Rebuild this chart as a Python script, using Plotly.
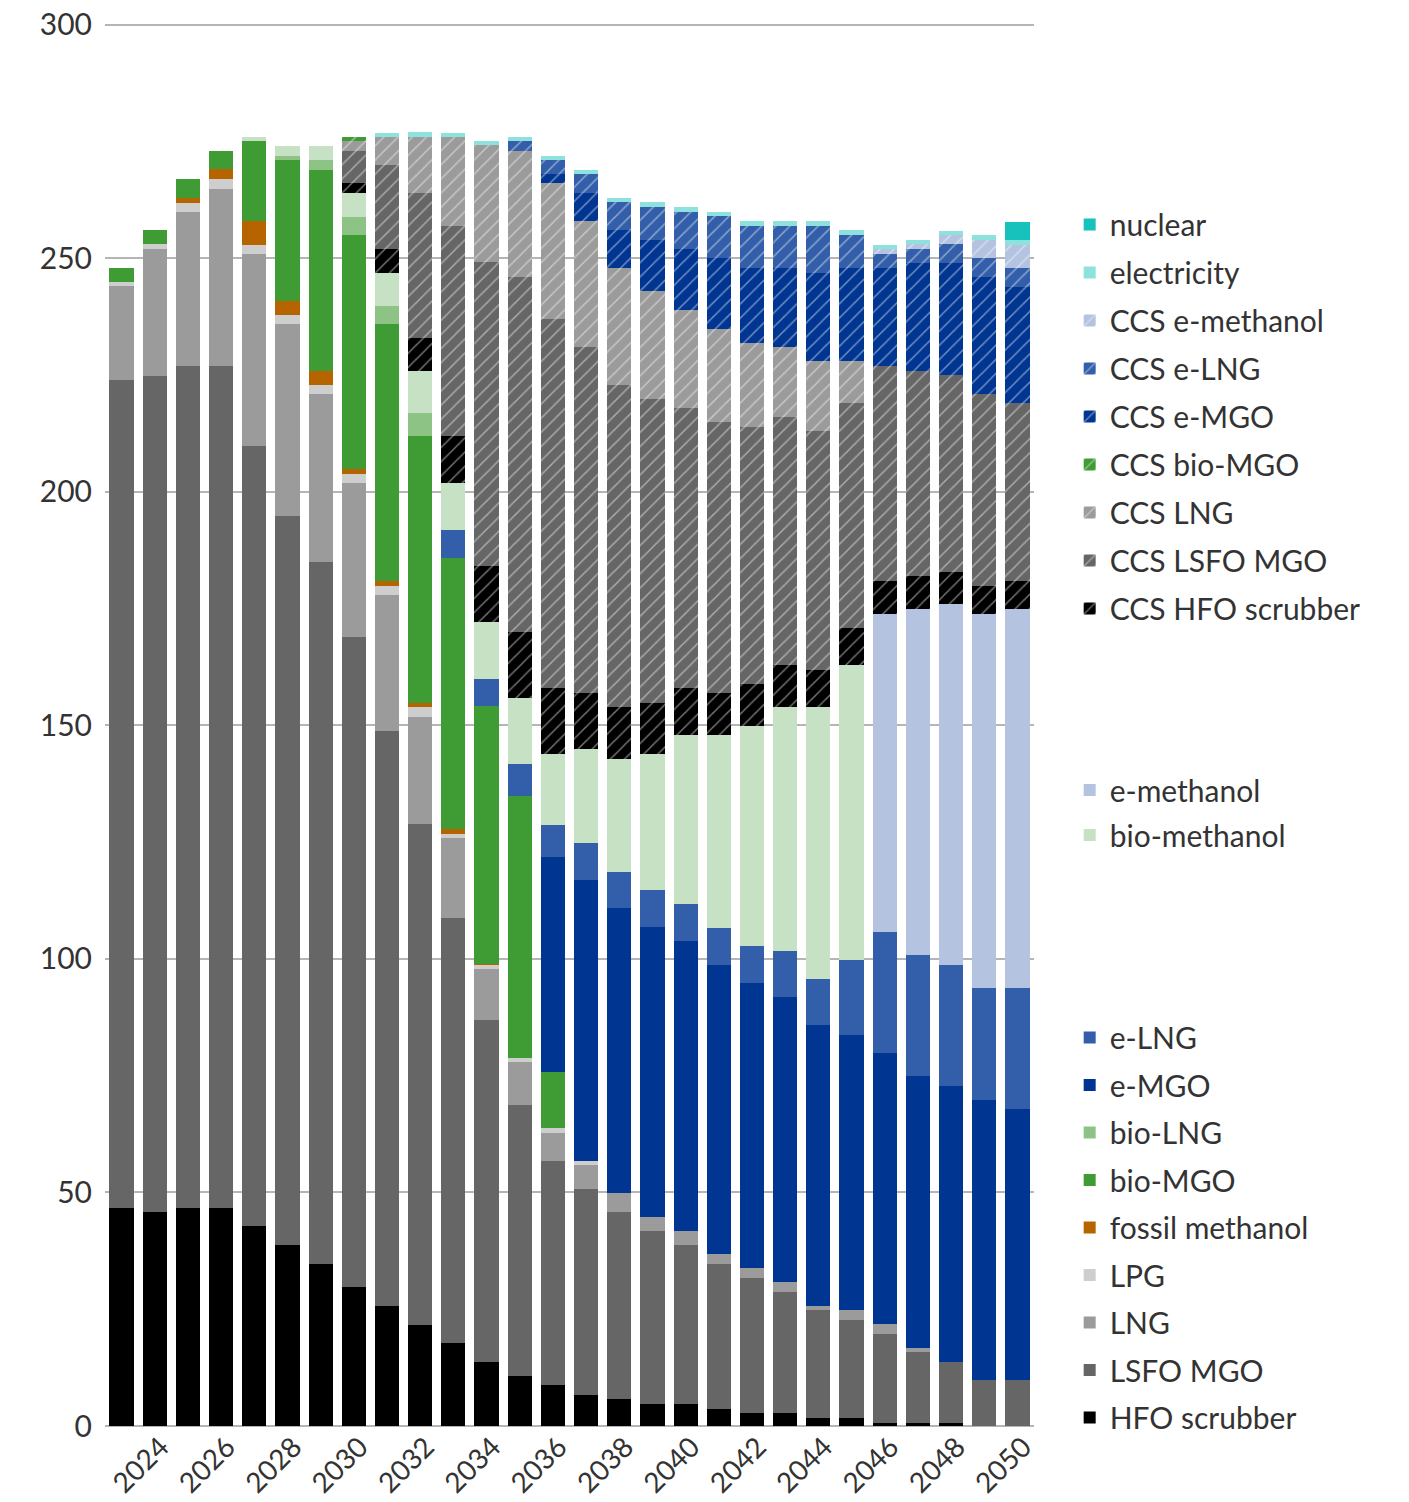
import plotly.graph_objects as go

# ── Data (2023 … 2050) ───────────────────────────────────────────────────────
years = list(range(2023, 2051))

hfo_scrubber = [46.7, 45.8, 46.7, 46.7, 42.8, 38.8, 34.7, 29.8, 25.7, 21.6, 17.8, 13.7, 10.7, 8.8,
                6.6, 5.8, 4.7, 4.7, 3.6, 2.8, 2.8, 1.7, 1.7, 0.6, 0.6, 0.6, 0, 0]
lsfo_mgo = [177.3, 179.0, 180.3, 180.3, 167.1, 156.1, 150.3, 139.2, 123.1, 107.3, 91.0, 73.2, 58.0, 47.9,
            44.1, 40.0, 37.1, 34.1, 31.1, 28.9, 25.9, 23.1, 21.0, 19.1, 15.2, 13.1, 9.9, 9.9]
lng = [20.0, 27.2, 33.0, 37.9, 41.1, 41.1, 36.0, 32.9, 29.1, 22.9, 17.1, 11.0, 9.2, 6.0,
       5.2, 4.1, 3.0, 3.0, 2.1, 2.1, 2.1, 0.9, 2.1, 2.1, 0.9, 0, 0, 0]
lpg = [1.0, 1.0, 1.9, 2.1, 1.9, 1.9, 1.9, 2.0, 2.0, 2.2, 0.9, 0.8, 0.9, 1.1,
       0.8, 0, 0, 0, 0, 0, 0, 0, 0, 0, 0, 0, 0, 0]
fossil_methanol = [0, 0, 1.1, 2.0, 5.1, 3.0, 3.0, 1.0, 1.0, 0.8, 1.0, 0.2, 0, 0,
                   0, 0, 0, 0, 0, 0, 0, 0, 0, 0, 0, 0, 0, 0]
bio_mgo = [3.0, 3.1, 4.0, 4.0, 17.0, 30.2, 43.0, 50.1, 55.1, 57.2, 58.1, 55.3, 56.1, 12.0,
           0, 0, 0, 0, 0, 0, 0, 0, 0, 0, 0, 0, 0, 0]
bio_lng = [0, 0, 0, 0, 0, 0.8, 2.2, 3.9, 3.8, 4.9, 0, 0, 0, 0,
           0, 0, 0, 0, 0, 0, 0, 0, 0, 0, 0, 0, 0, 0]
e_mgo = [0, 0, 0, 0, 0, 0, 0, 0, 0, 0, 0, 0, 0, 46.0,
         60.2, 61.0, 62.1, 62.1, 61.9, 61.1, 61.1, 60.2, 58.9, 58.1, 58.2, 59.1, 59.9, 58.0]
e_lng = [0, 0, 0, 0, 0, 0, 0, 0, 0, 0, 6.0, 5.7, 6.9, 6.9,
         7.9, 7.7, 7.9, 7.9, 7.9, 7.9, 9.8, 9.8, 16.1, 25.9, 26.0, 25.9, 24.0, 25.9]
bio_methanol = [0, 0, 0, 0, 1.0, 2.2, 3.0, 5.1, 7.1, 9.0, 10.0, 12.2, 14.1, 15.2,
                20.2, 24.2, 29.1, 36.2, 41.4, 47.1, 52.3, 58.3, 63.2, 0, 0, 0, 0, 0]
e_methanol = [0, 0, 0, 0, 0, 0, 0, 0, 0, 0, 0, 0, 0, 0,
              0, 0, 0, 0, 0, 0, 0, 0, 0, 68.1, 74.0, 77.3, 80.1, 81.1]
ccs_hfo_scrubber = [0, 0, 0, 0, 0, 0, 0, 2.0, 5.1, 7.1, 10.1, 12.0, 14.1, 14.1,
                    12.0, 11.2, 10.9, 10.0, 9.0, 9.0, 9.0, 7.9, 7.9, 7.0, 7.1, 6.9, 6.0, 6.0]
ccs_lsfo_mgo = [0, 0, 0, 0, 0, 0, 0, 7.0, 18.0, 31.0, 45.0, 65.1, 76.0, 79.0,
                74.0, 68.9, 65.1, 60.0, 58.0, 55.0, 53.1, 51.2, 48.2, 46.1, 43.9, 42.2, 41.1, 38.2]
ccs_lng = [0, 0, 0, 0, 0, 0, 0, 2.0, 6.0, 12.0, 19.0, 25.1, 27.0, 29.0,
           27.0, 25.1, 23.1, 21.0, 19.9, 18.0, 14.9, 15.0, 9.0, 0, 0, 0, 0, 0]
ccs_bio_mgo = [0, 0, 0, 0, 0, 0, 0, 1.0, 0, 0, 0, 0, 0, 0,
               0, 0, 0, 0, 0, 0, 0, 0, 0, 0, 0, 0, 0, 0]
ccs_e_mgo = [0, 0, 0, 0, 0, 0, 0, 0, 0, 0, 0, 0, 0, 2.1,
             6.0, 8.1, 11.0, 13.0, 15.2, 16.1, 17.0, 18.8, 19.9, 21.0, 23.1, 23.9, 25.0, 24.8]
ccs_e_lng = [0, 0, 0, 0, 0, 0, 0, 0, 0, 0, 0, 0, 2.0, 3.0,
             4.1, 6.0, 7.0, 8.0, 9.0, 9.0, 9.0, 10.1, 7.0, 3.0, 3.0, 4.1, 4.1, 4.1]
ccs_e_methanol = [0, 0, 0, 0, 0, 0, 0, 0, 0, 0, 0, 0, 0, 0,
                  0, 0, 0, 0, 0, 0, 0, 0, 0, 1.0, 1.1, 1.9, 3.9, 4.9]
electricity = [0, 0, 0, 0, 0, 0, 0, 0, 0.9, 1.1, 0.9, 0.9, 1.0, 0.8,
               0.8, 0.9, 1.1, 1.0, 0.9, 1.0, 1.0, 1.0, 1.1, 0.9, 0.9, 0.9, 1.0, 0.9]
nuclear = [0, 0, 0, 0, 0, 0, 0, 0, 0, 0, 0, 0, 0, 0,
           0, 0, 0, 0, 0, 0, 0, 0, 0, 0, 0, 0, 0, 4.0]

# stack order bottom -> top: (name, values, colour, hatched, legend box)
layers = [
    ("HFO scrubber",     hfo_scrubber,     "#000000", False, "legend3"),
    ("LSFO MGO",         lsfo_mgo,         "#666666", False, "legend3"),
    ("LNG",              lng,              "#9b9b9b", False, "legend3"),
    ("LPG",              lpg,              "#cecece", False, "legend3"),
    ("fossil methanol",  fossil_methanol,  "#b66400", False, "legend3"),
    ("bio-MGO",          bio_mgo,          "#3f9c35", False, "legend3"),
    ("bio-LNG",          bio_lng,          "#8dc385", False, "legend3"),
    ("e-MGO",            e_mgo,            "#003591", False, "legend3"),
    ("e-LNG",            e_lng,            "#335faa", False, "legend3"),
    ("bio-methanol",     bio_methanol,     "#c7e1c4", False, "legend2"),
    ("e-methanol",       e_methanol,       "#b3c3e0", False, "legend2"),
    ("CCS HFO scrubber", ccs_hfo_scrubber, "#000000", True,  "legend"),
    ("CCS LSFO MGO",     ccs_lsfo_mgo,     "#666666", True,  "legend"),
    ("CCS LNG",          ccs_lng,          "#9b9b9b", True,  "legend"),
    ("CCS bio-MGO",      ccs_bio_mgo,      "#3f9c35", True,  "legend"),
    ("CCS e-MGO",        ccs_e_mgo,        "#003591", True,  "legend"),
    ("CCS e-LNG",        ccs_e_lng,        "#335faa", True,  "legend"),
    ("CCS e-methanol",   ccs_e_methanol,   "#b3c3e0", True,  "legend"),
    ("electricity",      electricity,      "#8ee2dd", False, "legend"),
    ("nuclear",          nuclear,          "#17c2bc", False, "legend"),
]

FONT = "Lato, 'Open Sans', sans-serif"
TEXT = "#333333"

fig = go.Figure()
for i, (name, values, colour, hatched, legend) in enumerate(layers):
    marker = dict(color=colour, line=dict(width=0))
    if hatched:
        marker["pattern"] = dict(shape="/", fgcolor="white", fgopacity=0.45,
                                 size=10, solidity=0.15)
    # legend lists the top of the stack first
    fig.add_trace(go.Bar(x=years, y=values, name=name, marker=marker,
                         legend=legend, legendgroup=name,
                         legendrank=1000 - i))

legend_style = dict(
    x=1.0384, xanchor="left", yanchor="top",
    traceorder="grouped", tracegroupgap=6,
    font=dict(family=FONT, size=30, color=TEXT),
    bgcolor="rgba(0,0,0,0)",
)

# page body adds an 8px offset, so the figure is 8px smaller than the window;
# the y range runs slightly past 300 so the top gridline stays inside the plot
fig.update_layout(
    width=1401, height=1494,
    margin=dict(l=97, r=375, t=12.3, b=76),
    barmode="stack", bargap=0.27,
    plot_bgcolor="white", paper_bgcolor="white",
    font=dict(family=FONT, size=30, color=TEXT),
    legend=dict(legend_style, y=0.8731),
    legend2=dict(legend_style, y=0.4709, tracegroupgap=3),
    legend3=dict(legend_style, y=0.2948, tracegroupgap=5.5),
    xaxis=dict(
        range=[2022.5, 2050.5], tickmode="linear", tick0=2024, dtick=2,
        tickangle=-45, showgrid=False, zeroline=False, ticks="",
        ticklabelshift=6, ticklabelstandoff=-2,
        tickfont=dict(size=28, color=TEXT), automargin=False,
    ),
    yaxis=dict(
        range=[0, 301], tickmode="linear", tick0=0, dtick=50,
        showgrid=True, gridcolor="#b5b5b5", gridwidth=2,
        zeroline=True, zerolinecolor="#b5b5b5", zerolinewidth=2,
        ticks="", ticklabelstandoff=12, automargin=False,
        ticklabeloverflow="allow",
        tickfont=dict(size=30, color=TEXT),
    ),
)

fig.write_html("out.html")
